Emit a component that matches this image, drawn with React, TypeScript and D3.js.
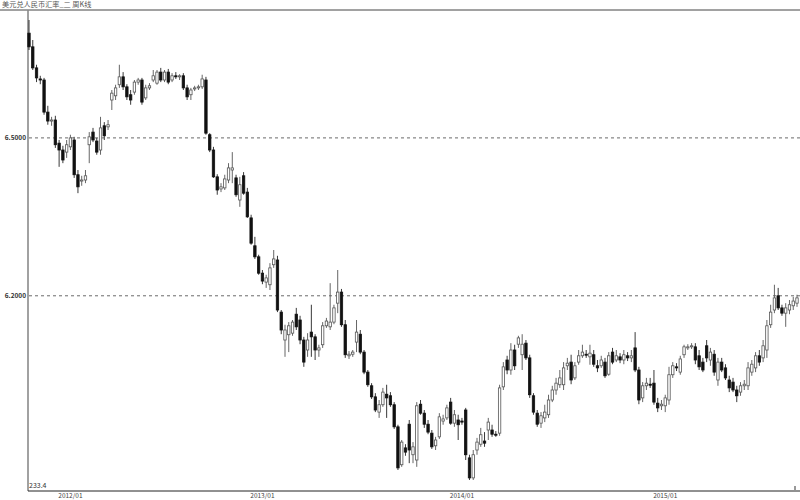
import React from "react";
import * as d3 from "d3";

const titleText = "美元兑人民币汇率_二 周K线";

const opens = [
  6.699, 6.673, 6.633, 6.612, 6.610, 6.549, 6.532, 6.534, 6.490, 6.477,
  6.473, 6.483, 6.496, 6.430, 6.418, 6.420, 6.487, 6.511, 6.494, 6.477,
  6.523, 6.521, 6.572, 6.580, 6.601, 6.616, 6.597, 6.582, 6.587, 6.606,
  6.610, 6.576, 6.595, 6.610, 6.604, 6.625, 6.610, 6.625, 6.610, 6.618,
  6.616, 6.618, 6.595, 6.582, 6.593, 6.595, 6.597, 6.610, 6.506, 6.477,
  6.426, 6.403, 6.405, 6.420, 6.439, 6.424, 6.382, 6.428, 6.397, 6.348,
  6.295, 6.274, 6.243, 6.226, 6.221, 6.259, 6.268, 6.169, 6.116, 6.126,
  6.129, 6.165, 6.154, 6.116, 6.097, 6.131, 6.122, 6.097, 6.107, 6.143,
  6.141, 6.150, 6.186, 6.207, 6.145, 6.086, 6.089, 6.112, 6.127, 6.093,
  6.055, 6.029, 6.008, 5.979, 5.993, 6.013, 6.010, 5.993, 5.951, 5.879,
  5.911, 5.956, 5.898, 5.888, 5.994, 5.977, 5.956, 5.939, 5.915, 5.932,
  5.962, 5.968, 5.998, 5.958, 5.964, 5.962, 5.983, 5.892, 5.854, 5.907,
  5.918, 5.924, 5.945, 5.945, 5.937, 5.939, 6.027, 6.078, 6.059, 6.097,
  6.108, 6.088, 6.110, 6.082, 6.010, 5.977, 5.958, 5.968, 5.974, 6.002,
  6.021, 6.031, 6.031, 6.067, 6.074, 6.044, 6.074, 6.086, 6.089, 6.084,
  6.088, 6.067, 6.067, 6.074, 6.051, 6.093, 6.078, 6.084, 6.078, 6.086,
  6.082, 6.101, 6.059, 6.006, 6.029, 6.032, 6.034, 5.996, 5.991, 5.991,
  6.002, 6.050, 6.065, 6.055, 6.088, 6.101, 6.103, 6.103, 6.086, 6.074,
  6.105, 6.078, 6.089, 6.040, 6.074, 6.063, 6.040, 6.036, 6.021, 6.017,
  6.029, 6.029, 6.055, 6.063, 6.086, 6.082, 6.097, 6.145, 6.173, 6.200,
  6.177, 6.167, 6.173, 6.181, 6.186,
];

const highs = [
  6.724, 6.686, 6.639, 6.618, 6.614, 6.561, 6.540, 6.542, 6.496, 6.485,
  6.496, 6.506, 6.502, 6.439, 6.428, 6.439, 6.511, 6.519, 6.500, 6.540,
  6.530, 6.534, 6.591, 6.601, 6.639, 6.625, 6.602, 6.591, 6.610, 6.614,
  6.614, 6.601, 6.604, 6.629, 6.629, 6.633, 6.629, 6.631, 6.623, 6.625,
  6.621, 6.623, 6.601, 6.595, 6.599, 6.601, 6.620, 6.616, 6.509, 6.483,
  6.431, 6.414, 6.430, 6.452, 6.473, 6.430, 6.426, 6.435, 6.405, 6.354,
  6.312, 6.278, 6.249, 6.240, 6.262, 6.287, 6.276, 6.173, 6.145, 6.150,
  6.154, 6.177, 6.162, 6.122, 6.129, 6.183, 6.127, 6.107, 6.150, 6.158,
  6.224, 6.183, 6.249, 6.213, 6.154, 6.095, 6.097, 6.154, 6.135, 6.097,
  6.059, 6.034, 6.015, 6.002, 6.025, 6.031, 6.017, 5.998, 5.955, 5.926,
  5.918, 5.964, 5.922, 5.998, 6.002, 5.983, 5.964, 5.945, 5.932, 5.977,
  5.974, 5.993, 6.006, 5.983, 5.974, 5.968, 5.987, 5.898, 5.907, 5.930,
  5.949, 5.941, 5.968, 5.955, 5.943, 6.031, 6.074, 6.086, 6.110, 6.107,
  6.124, 6.127, 6.116, 6.088, 6.015, 5.983, 5.979, 5.993, 6.012, 6.029,
  6.044, 6.059, 6.074, 6.082, 6.088, 6.074, 6.097, 6.107, 6.097, 6.107,
  6.097, 6.078, 6.086, 6.082, 6.093, 6.101, 6.097, 6.091, 6.097, 6.093,
  6.097, 6.131, 6.065, 6.036, 6.044, 6.044, 6.059, 6.006, 6.002, 6.012,
  6.065, 6.074, 6.072, 6.086, 6.107, 6.108, 6.110, 6.110, 6.097, 6.082,
  6.116, 6.101, 6.097, 6.082, 6.082, 6.070, 6.048, 6.044, 6.029, 6.036,
  6.040, 6.074, 6.078, 6.093, 6.097, 6.116, 6.154, 6.183, 6.221, 6.215,
  6.183, 6.186, 6.192, 6.198, 6.202,
];

const lows = [
  6.667, 6.629, 6.606, 6.602, 6.544, 6.525, 6.523, 6.481, 6.445, 6.452,
  6.462, 6.477, 6.424, 6.395, 6.409, 6.414, 6.452, 6.492, 6.468, 6.468,
  6.496, 6.515, 6.553, 6.572, 6.595, 6.591, 6.572, 6.563, 6.582, 6.601,
  6.563, 6.572, 6.591, 6.606, 6.601, 6.606, 6.606, 6.602, 6.606, 6.612,
  6.610, 6.591, 6.572, 6.572, 6.589, 6.591, 6.593, 6.506, 6.473, 6.424,
  6.392, 6.397, 6.401, 6.414, 6.414, 6.388, 6.369, 6.392, 6.348, 6.297,
  6.270, 6.240, 6.222, 6.215, 6.211, 6.253, 6.169, 6.127, 6.084, 6.093,
  6.124, 6.135, 6.108, 6.065, 6.084, 6.084, 6.078, 6.084, 6.101, 6.139,
  6.135, 6.146, 6.167, 6.141, 6.082, 6.080, 6.084, 6.093, 6.089, 6.051,
  6.027, 6.004, 5.979, 5.968, 5.989, 5.968, 5.989, 5.947, 5.869, 5.875,
  5.896, 5.882, 5.882, 5.875, 5.974, 5.949, 5.937, 5.909, 5.907, 5.928,
  5.955, 5.964, 5.955, 5.951, 5.926, 5.955, 5.888, 5.850, 5.850, 5.898,
  5.913, 5.913, 5.926, 5.932, 5.932, 5.934, 6.021, 6.051, 6.050, 6.059,
  6.101, 6.059, 6.078, 6.006, 5.974, 5.951, 5.949, 5.960, 5.968, 5.998,
  6.012, 6.025, 6.021, 6.059, 6.032, 6.040, 6.069, 6.082, 6.082, 6.069,
  6.065, 6.055, 6.063, 6.044, 6.048, 6.070, 6.074, 6.072, 6.070, 6.076,
  6.074, 6.055, 5.994, 5.998, 6.021, 6.025, 5.993, 5.979, 5.983, 5.979,
  5.993, 6.044, 6.057, 6.050, 6.082, 6.097, 6.099, 6.070, 6.059, 6.055,
  6.074, 6.067, 6.048, 6.029, 6.055, 6.040, 6.017, 6.017, 5.998, 6.010,
  6.021, 6.021, 6.048, 6.055, 6.067, 6.074, 6.082, 6.139, 6.167, 6.173,
  6.162, 6.141, 6.165, 6.173, 6.179,
];

const closes = [
  6.673, 6.633, 6.614, 6.610, 6.549, 6.532, 6.534, 6.487, 6.477, 6.458,
  6.487, 6.500, 6.430, 6.407, 6.420, 6.428, 6.502, 6.496, 6.473, 6.519,
  6.504, 6.525, 6.585, 6.595, 6.616, 6.597, 6.578, 6.572, 6.606, 6.610,
  6.568, 6.595, 6.599, 6.618, 6.625, 6.610, 6.625, 6.606, 6.618, 6.616,
  6.618, 6.595, 6.578, 6.591, 6.595, 6.597, 6.612, 6.509, 6.477, 6.426,
  6.401, 6.407, 6.422, 6.443, 6.443, 6.392, 6.411, 6.395, 6.350, 6.300,
  6.274, 6.243, 6.228, 6.234, 6.253, 6.270, 6.173, 6.135, 6.135, 6.143,
  6.150, 6.141, 6.116, 6.074, 6.116, 6.122, 6.097, 6.101, 6.143, 6.152,
  6.150, 6.177, 6.207, 6.145, 6.088, 6.089, 6.093, 6.131, 6.093, 6.055,
  6.031, 6.008, 5.983, 5.993, 6.017, 6.006, 5.993, 5.951, 5.873, 5.922,
  5.903, 5.907, 5.913, 5.991, 5.977, 5.956, 5.941, 5.913, 5.926, 5.970,
  5.966, 5.987, 5.958, 5.974, 5.955, 5.960, 5.898, 5.854, 5.898, 5.922,
  5.936, 5.920, 5.960, 5.937, 5.936, 6.025, 6.065, 6.059, 6.097, 6.067,
  6.120, 6.108, 6.082, 6.012, 5.979, 5.956, 5.972, 5.979, 6.002, 6.021,
  6.034, 6.044, 6.063, 6.072, 6.040, 6.067, 6.086, 6.093, 6.088, 6.091,
  6.070, 6.063, 6.078, 6.048, 6.086, 6.074, 6.086, 6.078, 6.088, 6.082,
  6.086, 6.059, 6.002, 6.029, 6.034, 6.031, 5.998, 5.987, 5.994, 6.006,
  6.050, 6.067, 6.063, 6.080, 6.103, 6.103, 6.105, 6.078, 6.065, 6.059,
  6.082, 6.093, 6.055, 6.074, 6.059, 6.044, 6.025, 6.021, 6.010, 6.029,
  6.032, 6.063, 6.070, 6.086, 6.074, 6.105, 6.143, 6.169, 6.196, 6.177,
  6.167, 6.177, 6.183, 6.190, 6.196,
];

const yTickValues = [6.5, 6.2];
const yTickLabels = ["6.5000", "6.2000"];
const xTickIndex = [11, 62, 115, 169];
const xTickLabels = ["2012/01", "2013/01", "2014/01", "2015/01"];
const bottomNote = "233.4";

export default function App() {
  const W = 800;
  const H = 500;
  const left = 28;
  const top = 10;
  const bottom = 491;
  const n = closes.length;

  const x = d3.scaleLinear().domain([0, n - 1]).range([29, 797]);
  const y = d3.scaleLinear().domain([5.8291, 6.743]).range([bottom, top]);
  const bw = 2.4;

  const candles = d3.range(n).map((i) => ({
    i,
    o: opens[i],
    h: highs[i],
    l: lows[i],
    c: closes[i],
  }));

  return (
    <svg
      width={W}
      height={H}
      viewBox={`0 0 ${W} ${H}`}
      style={{ position: "absolute", left: 0, top: 0, background: "#fff" }}
      fontFamily="'Noto Sans CJK SC', 'DejaVu Sans', sans-serif"
    >
      <rect x={0} y={0} width={W} height={H} fill="#fff" />
      <text x={2} y={7} fontSize={7.2} fill="#555">
        {titleText}
      </text>
      <line x1={0} x2={W} y1={top} y2={top} stroke="#444" strokeWidth={1} />
      <line x1={left} x2={left} y1={top} y2={bottom} stroke="#8a8a8a" strokeWidth={1.6} />
      <line x1={left} x2={W} y1={bottom} y2={bottom} stroke="#222" strokeWidth={1} />

      {yTickValues.map((v, k) => (
        <g key={k}>
          <line
            x1={left + 1}
            x2={W}
            y1={y(v)}
            y2={y(v)}
            stroke="#444"
            strokeWidth={0.8}
            strokeDasharray="3,3"
          />
          <text
            x={left - 2}
            y={y(v)}
            dy="0.35em"
            fontSize={6.5}
            fontWeight="bold"
            textAnchor="end"
            fill="#333"
          >
            {yTickLabels[k]}
          </text>
        </g>
      ))}

      {candles.map((d) => {
        const cx = x(d.i);
        const up = d.c >= d.o;
        const yTop = y(Math.max(d.o, d.c));
        const yBot = y(Math.min(d.o, d.c));
        const bh = Math.max(1, yBot - yTop);
        return (
          <g key={d.i}>
            <line
              x1={cx}
              x2={cx}
              y1={y(d.h)}
              y2={y(d.l)}
              stroke={up ? "#555" : "#222"}
              strokeWidth={0.9}
            />
            <rect
              x={cx - bw / 2}
              y={yTop}
              width={bw}
              height={bh}
              fill={up ? "#fff" : "#111"}
              stroke={up ? "#555" : "#111"}
              strokeWidth={0.8}
            />
          </g>
        );
      })}

      {xTickIndex.map((idx, k) => (
        <text
          key={k}
          x={x(idx)}
          y={498}
          fontSize={6.5}
          textAnchor="middle"
          fill="#444"
        >
          {xTickLabels[k]}
        </text>
      ))}
      <text x={left + 1} y={488} fontSize={7} fill="#333">
        {bottomNote}
      </text>
      <line x1={795} x2={795} y1={486} y2={490} stroke="#333" strokeWidth={1} />
    </svg>
  );
}
